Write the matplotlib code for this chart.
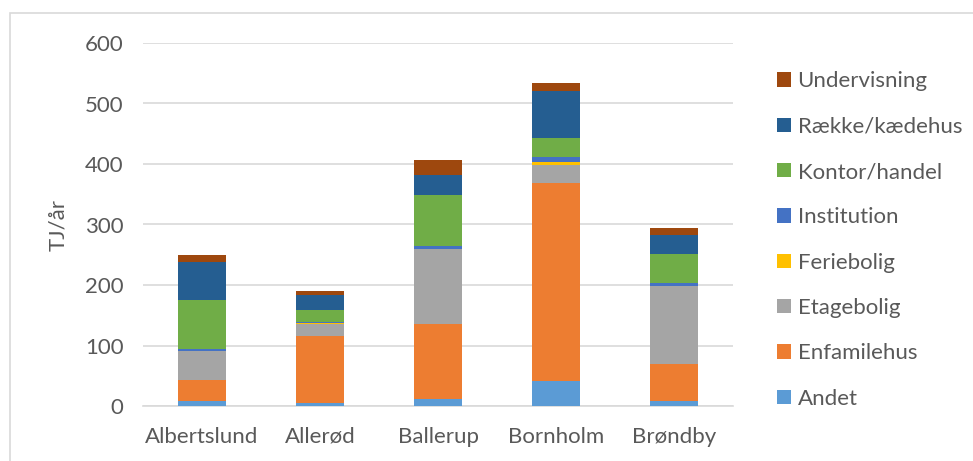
import matplotlib
matplotlib.use("Agg")
import matplotlib.pyplot as plt
from matplotlib.patches import Rectangle
import numpy as np

plt.rcParams["font.family"] = ["Lato", "DejaVu Sans"]

kommuner = ["Albertslund", "Allerød", "Ballerup", "Bornholm", "Brøndby"]

# TJ/år per building type, stacked bottom to top
andet = [9, 5, 11, 41, 8]
enfamilehus = [34, 111, 124, 328, 62]
etagebolig = [48, 20, 124, 29, 128]
feriebolig = [0, 1, 0, 6, 0]
institution = [4, 2, 5, 7, 5]
kontor_handel = [81, 19, 84, 32, 49]
raekke_kaedehus = [62, 25, 33, 77, 30]
undervisning = [12, 7, 25, 14, 13]

series = [
    ("Andet", andet, "#5B9BD5"),
    ("Enfamilehus", enfamilehus, "#ED7D31"),
    ("Etagebolig", etagebolig, "#A5A5A5"),
    ("Feriebolig", feriebolig, "#FFC000"),
    ("Institution", institution, "#4472C4"),
    ("Kontor/handel", kontor_handel, "#70AD47"),
    ("Række/kædehus", raekke_kaedehus, "#255E91"),
    ("Undervisning", undervisning, "#9E480E"),
]

txt = "#595959"
grid = "#D9D9D9"
fs = 16

fig = plt.figure(figsize=(9.73, 4.61), dpi=100)
ax = fig.add_axes([143 / 973, 1 - 406 / 461, 590 / 973, 363 / 461])

# chart frame (runs off the right/bottom edge)
fig.patches.append(Rectangle((10 / 973, -0.05), 1.0, 1.05 - 13.5 / 461,
                             transform=fig.transFigure, fill=False,
                             edgecolor=grid, lw=1.2))

x = np.arange(len(kommuner))
bottom = np.zeros(len(kommuner))
handles = []
for name, vals, col in series:
    b = ax.bar(x, vals, 0.41, bottom=bottom, color=col, label=name, zorder=3)
    handles.append(b)
    bottom += np.array(vals)

ax.set_xlim(-0.5, len(kommuner) - 0.5)
ax.set_ylim(0, 600)
ax.set_yticks(range(0, 601, 100))
ax.yaxis.grid(True, color=grid, lw=1.2, zorder=0)
for s in ("top", "right", "left"):
    ax.spines[s].set_visible(False)
ax.spines["bottom"].set_color(grid)
ax.spines["bottom"].set_linewidth(1.2)
ax.tick_params(length=0, labelsize=fs, labelcolor=txt)
ax.tick_params(axis="y", pad=14)
ax.tick_params(axis="x", pad=15)
ax.set_xticks(x)
ax.set_xticklabels(kommuner)
ax.set_ylabel("TJ/år", fontsize=fs, color=txt, labelpad=12)

leg = fig.legend(handles[::-1], [s[0] for s in series][::-1],
                 loc="center left", bbox_to_anchor=(768 / 973, 1 - 240 / 461),
                 frameon=False, fontsize=fs, labelcolor=txt,
                 handlelength=0.63, handleheight=0.63, handletextpad=0.3,
                 labelspacing=1.14, borderaxespad=0)

fig.savefig("out.png", dpi=100)
